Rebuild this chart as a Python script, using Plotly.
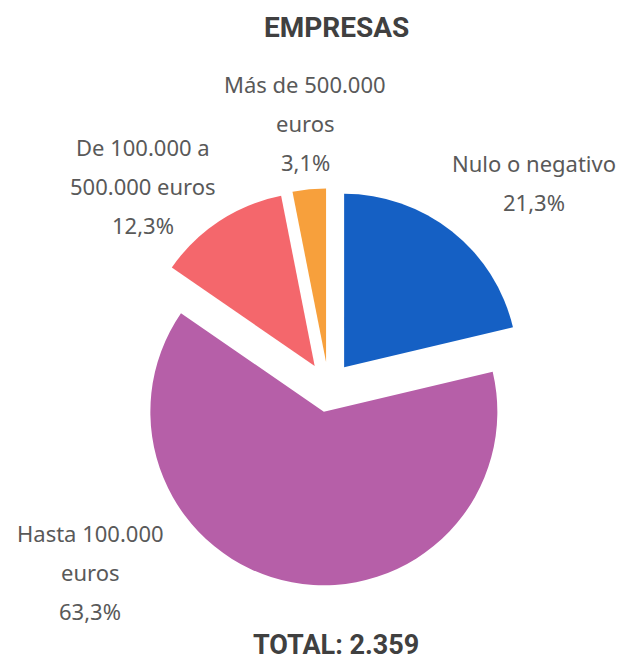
import plotly.graph_objects as go

categories = ["Nulo o negativo", "Hasta 100.000 euros", "De 100.000 a 500.000 euros", "Más de 500.000 euros"]
values = [21.3, 63.3, 12.3, 3.1]
pct_labels = ["21,3%", "63,3%", "12,3%", "3,1%"]
label_lines = [["Nulo o negativo"], ["Hasta 100.000", "euros"], ["De 100.000 a", "500.000 euros"], ["Más de 500.000", "euros"]]
colors = ["#1560C4", "#B65FA8", "#F4676C", "#F7A03C"]
title_text = "EMPRESAS"
total_text = "TOTAL: 2.359"

W, H = 627, 662
# pie geometry (pixels)
cx, cy, r, pull = 328.5, 387.0, 173.5, 0.145
half = r * (1 + pull)

fig = go.Figure(go.Pie(
    labels=categories, values=values, sort=False, direction="clockwise", rotation=0,
    marker=dict(colors=colors, line=dict(width=0)),
    pull=[pull] * len(values), textinfo="none", hoverinfo="label+percent",
    showlegend=False,
    domain=dict(x=[(cx - half) / W, (cx + half) / W], y=[(H - cy - half) / H, (H - cy + half) / H]),
))

# label anchor (center x, first-line y) in pixels
label_pos = [(534, 163), (90, 533), (143, 147), (305, 84)]
line_gap = 39
txt_color = "#595959"
annotations = []
for lines, pct, (x, y) in zip(label_lines, pct_labels, label_pos):
    for i, t in enumerate(lines + [pct]):
        annotations.append(dict(x=x / W, y=1 - (y + i * line_gap) / H, xref="paper", yref="paper",
                                text=t, showarrow=False, xanchor="center", yanchor="middle",
                                font=dict(family="Noto Sans, sans-serif", size=22, color=txt_color)))
annotations.append(dict(x=336 / W, y=1 - 27 / H, xref="paper", yref="paper", text="<b>" + title_text + "</b>",
                        showarrow=False, xanchor="center", yanchor="middle",
                        font=dict(family="Roboto, Arial, sans-serif", size=28, color="#404040")))
annotations.append(dict(x=336 / W, y=1 - 645 / H, xref="paper", yref="paper", text="<b>" + total_text + "</b>",
                        showarrow=False, xanchor="center", yanchor="middle",
                        font=dict(family="Roboto, Arial, sans-serif", size=27, color="#404040")))

fig.update_layout(width=W, height=H, margin=dict(l=0, r=0, t=0, b=0),
                  paper_bgcolor="white", plot_bgcolor="white", annotations=annotations)
fig.write_html("out.html", config={"displayModeBar": False},
               post_script="document.body.style.margin='0';document.body.style.padding='0';")
